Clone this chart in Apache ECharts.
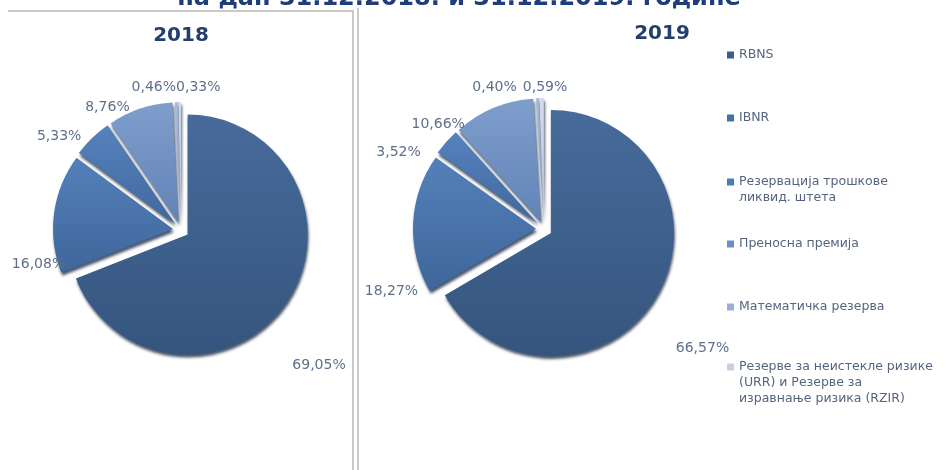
<!DOCTYPE html>
<html>
<head>
<meta charset="utf-8">
<script src="https://cdn.jsdelivr.net/npm/echarts@6/dist/echarts.min.js"></script>
<style>
html,body{margin:0;padding:0;background:#fff;}
#chart{width:945px;height:470px;}
</style>
</head>
<body>
<div id="chart"></div>
<script>
// ---- data ----
const categories = [
  'RBNS',
  'IBNR',
  'Резервација трошкове\nликвид. штета',
  'Преносна премија',
  'Математичка резерва',
  'Резерве за неистекле ризике\n(URR) и Резерве за\nизравнање ризика (RZIR)'
];
const values2018 = [69.05, 16.08, 5.33, 8.76, 0.46, 0.33];
const values2019 = [66.57, 18.27, 3.52, 10.66, 0.40, 0.59];
const years = ['2018', '2019'];
const mainTitle = 'на дан 31.12.2018. и 31.12.2019. године';

// ---- styles / layout tweaks (not data) ----
const gradTop = ['#486b9b', '#5480b9', '#5682bd', '#7f9ecc', '#acbddc', '#d3dbeb'];
const gradBot = ['#34557e', '#3e669b', '#41689e', '#6183b7', '#8fa4cc', '#b6c3dc'];
const legendColors = ['#3d5d8a', '#4470ab', '#4b7bbb', '#6c8dc6', '#9aaed6', '#c6d0e5'];
const legendFirstLine = [55, 118, 182, 244, 307, 367];
// label nudges emulating the original 3-D perspective label placement
const nudge2018 = [[-11, 55], [30, 53], [4, 9], [-1, 12], [5, -1], [46, -1]];
const nudge2019 = [[1, 47], [24, 69], [-10, 20], [-18, 29], [-15, 3], [31, 3]];
const labelColor = '#5f6f8c';
const font = 'DejaVu Sans';

function fmt(v) { return v.toFixed(2).replace('.', ',') + '%'; }

function pieData(vals) {
  return categories.map((c, i) => ({
    name: c,
    value: vals[i],
    selected: true,
    itemStyle: {
      color: new echarts.graphic.LinearGradient(0, 0, 0, 1, [
        {offset: 0, color: gradTop[i]}, {offset: 1, color: gradBot[i]}
      ])
    }
  }));
}

function pieSeries(vals, center, radius, nudges) {
  return {
    type: 'pie',
    center: center,
    radius: radius,
    startAngle: 90,
    clockwise: true,
    selectedMode: 'multiple',
    selectedOffset: 8,
    avoidLabelOverlap: false,
    animation: false,
    silent: true,
    label: {
      show: true,
      position: 'outside',
      formatter: p => fmt(p.value),
      color: labelColor,
      fontFamily: font,
      fontSize: 14
    },
    labelLine: {show: false, length: 14, length2: 0},
    labelLayout: function (params) {
      const n = nudges[params.dataIndex];
      return {dx: n[0], dy: n[1], hideOverlap: false, moveOverlap: false};
    },
    itemStyle: {
      shadowColor: 'rgba(12,28,55,0.75)',
      shadowBlur: 3,
      shadowOffsetX: 1,
      shadowOffsetY: 3
    },
    data: pieData(vals)
  };
}

const lh = 16;
const legends = categories.map((c, i) => {
  const lines = c.split('\n').length;
  let icon = 'rect', ih = 7, top = legendFirstLine[i] - lh / 2;
  if (lines > 1) {
    ih = lines * lh;
    icon = 'path://M0,0h0.01v0.01h-0.01zM0,4.5h7v7h-7zM6.99,' + (ih - 0.01) + 'h0.01v0.01h-0.01z';
  }
  return {
    orient: 'vertical',
    left: 727,
    top: top,
    padding: 0,
    itemWidth: 7,
    itemHeight: ih,
    icon: icon,
    selectedMode: false,
    data: [{name: c, itemStyle: {color: legendColors[i]}}],
    textStyle: {
      color: '#56657f',
      fontFamily: font,
      fontSize: 12.5,
      lineHeight: lh
    }
  };
});

const chart = echarts.init(document.getElementById('chart'), null, {renderer: 'canvas'});
chart.setOption({
  backgroundColor: '#ffffff',
  animation: false,
  title: [
    {text: mainTitle, left: 459, top: -13, padding: 0, textAlign: 'center',
     textStyle: {color: '#1f3d78', fontFamily: font, fontWeight: 'bold', fontSize: 24}},
    {text: years[0], left: 181, top: 26, padding: 0, textAlign: 'center',
     textStyle: {color: '#243f6e', fontFamily: font, fontWeight: 'bold', fontSize: 20}},
    {text: years[1], left: 662, top: 24, padding: 0, textAlign: 'center',
     textStyle: {color: '#243f6e', fontFamily: font, fontWeight: 'bold', fontSize: 20}}
  ],
  legend: legends,
  graphic: [
    {type: 'polyline', shape: {points: [[8, 11], [353, 11], [353, 470]]},
     style: {stroke: '#c9c9c9', lineWidth: 2, fill: null}, silent: true},
    {type: 'line', shape: {x1: 358, y1: 8, x2: 358, y2: 470},
     style: {stroke: '#c9c9c9', lineWidth: 2}, silent: true}
  ],
  series: [
    pieSeries(values2018, [181, 230], 120, nudge2018),
    pieSeries(values2019, [544, 229], 123, nudge2019)
  ]
});
</script>
</body>
</html>
